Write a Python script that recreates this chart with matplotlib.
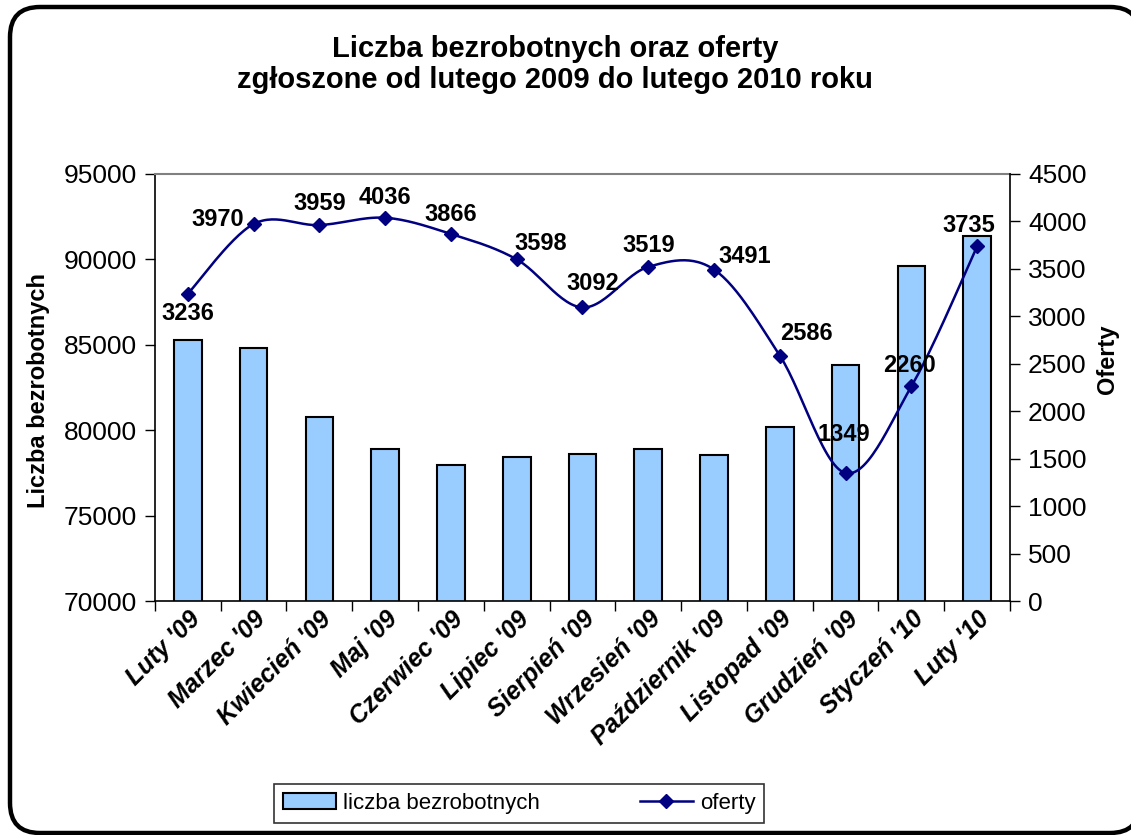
import numpy as np
import matplotlib
matplotlib.use("Agg")
import matplotlib.pyplot as plt
from matplotlib.patches import FancyBboxPatch, Patch
from matplotlib.lines import Line2D

plt.rcParams['font.family'] = ['Liberation Sans', 'DejaVu Sans']

months = ["Luty '09", "Marzec '09", "Kwiecień '09", "Maj '09", "Czerwiec '09",
          "Lipiec '09", "Sierpień '09", "Wrzesień '09", "Październik '09",
          "Listopad '09", "Grudzień '09", "Styczeń '10", "Luty '10"]
bezrobotni = [85250, 84800, 80800, 78880, 77960, 78430, 78620, 78880, 78550,
              80190, 83820, 89600, 91370]
oferty = [3236, 3970, 3959, 4036, 3866, 3598, 3092, 3519, 3491, 2586, 1349, 2260, 3735]

# label offsets in pixels (dx, dy)
label_off = [(0, -20), (-36, 5), (0, 22), (0, 20), (0, 19), (24, 16), (10, 24),
             (0, 21), (31, 13), (27, 22), (-2, 39), (-2, 21), (-8, 21)]

fig = plt.figure(figsize=(11.31, 8.35), dpi=100)
fig.patch.set_facecolor('white')

# rounded frame (right edge slightly past the image edge as in the reference)
bg = fig.add_axes([0, 0, 1, 1], zorder=-5)
bg.set_xlim(0, 1131)
bg.set_ylim(835, 0)
bg.axis('off')
bg.add_patch(FancyBboxPatch((10, 7), 1130, 826, boxstyle="round,pad=0,rounding_size=30",
                            facecolor='white', edgecolor='black', linewidth=3.2))

ax = fig.add_axes([0.137, 0.280, 0.756, 0.512])
ax.set_facecolor('none')
x = np.arange(len(months))
ax.bar(x, bezrobotni, width=0.42, color='#99CCFF', edgecolor='black', linewidth=1.5, zorder=2)
ax.set_ylim(70000, 95000)
ax.set_xlim(-0.5, len(months) - 0.5)
ax.set_yticks(np.arange(70000, 95001, 5000))
ax.set_xticks(np.arange(-0.5, len(months), 1.0))
ax.set_xticklabels([])
ax.set_xticks(x, minor=True)
ax.set_xticklabels(months, minor=True, rotation=45, ha='right', va='top',
                   rotation_mode='anchor', fontsize=18, fontweight='bold', fontstyle='italic')
ax.tick_params(axis='x', which='minor', length=0, pad=4)
ax.tick_params(axis='x', which='major', length=7, width=1, direction='out')
ax.tick_params(axis='y', length=7, width=1, direction='out', labelsize=19, pad=6)
ax.set_ylabel('Liczba bezrobotnych', fontsize=17, fontweight='bold')
ax.yaxis.label.set_va('center')
ax.yaxis.set_label_coords(-0.1357, 0.494)
for s in ['left', 'bottom']:
    ax.spines[s].set_linewidth(1.2)
ax.spines['top'].set_color('#808080')
ax.spines['top'].set_linewidth(1.5)
ax.spines['right'].set_visible(False)

ax2 = ax.twinx()
ax2.set_ylim(0, 4500)
ax2.set_yticks(np.arange(0, 4501, 500))
ax2.tick_params(axis='y', length=7, width=1, direction='out', labelsize=19, pad=6)
ax2.spines['right'].set_linewidth(1.2)
ax2.spines['top'].set_visible(False)
ax2.spines['left'].set_visible(False)
ax2.spines['bottom'].set_visible(False)
ax2.set_ylabel('Oferty', fontsize=17, fontweight='bold')
ax2.yaxis.label.set_va('center')
ax2.yaxis.set_label_coords(1.1135, 0.567)

# smooth curve (Catmull-Rom / Bezier like Excel)
P = np.column_stack([x, oferty]).astype(float)
Pext = np.vstack([P[0], P, P[-1]])
curve = []
t = np.linspace(0, 1, 30)
for i in range(1, len(Pext) - 2):
    p0, p1, p2, p3 = Pext[i - 1], Pext[i], Pext[i + 1], Pext[i + 2]
    c1 = p1 + (p2 - p0) / 6.0
    c2 = p2 - (p3 - p1) / 6.0
    seg = ((1 - t)[:, None] ** 3 * p1 + 3 * (1 - t)[:, None] ** 2 * t[:, None] * c1
           + 3 * (1 - t)[:, None] * t[:, None] ** 2 * c2 + t[:, None] ** 3 * p2)
    curve.append(seg)
curve = np.vstack(curve)
ax2.plot(curve[:, 0], curve[:, 1], color='#000080', linewidth=1.8, zorder=3)
ax2.plot(x, oferty, linestyle='none', marker='D', markersize=7, color='#000080', zorder=4)
for xi, yi, (dx, dy) in zip(x, oferty, label_off):
    ax2.annotate(str(yi), (xi, yi), xytext=(dx, dy), textcoords='offset pixels',
                 ha='center', va='center', fontsize=17, fontweight='bold', zorder=5)

fig.text(0.491, 0.923, 'Liczba bezrobotnych oraz oferty\nzgłoszone od lutego 2009 do lutego 2010 roku',
         ha='center', va='center', fontsize=21, fontweight='bold', linespacing=1.12)

handles = [Patch(facecolor='#99CCFF', edgecolor='black', linewidth=1.5),
           Line2D([0], [0], color='#000080', marker='D', markersize=7, linewidth=1.8)]
leg = fig.legend(handles, ['liczba bezrobotnych', 'oferty'], loc='center',
                 bbox_to_anchor=(0.459, 0.038), ncol=2, fontsize=16, frameon=True,
                 fancybox=False, edgecolor='black', handlelength=2.4, columnspacing=4.5,
                 borderpad=0.4, handletextpad=0.3, borderaxespad=0)
leg.get_frame().set_linewidth(1.2)

fig.savefig('out.png', dpi=100)
